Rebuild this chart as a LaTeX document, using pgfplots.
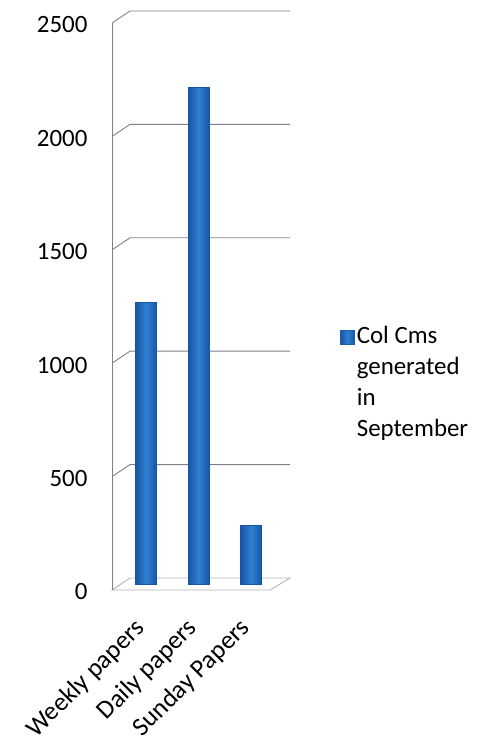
\documentclass[border=0pt]{standalone}
\usepackage{pgfplots}
\pgfplotsset{compat=1.18}
\usepackage{fontspec}
\setmainfont{Carlito}
\definecolor{barmid}{RGB}{48,128,210}
\definecolor{baredge}{RGB}{24,84,164}
\definecolor{legblue}{RGB}{31,95,168}
\definecolor{gridc}{RGB}{128,128,140}
\pgfplotsset{cyl/.style={ybar, bar width=0.4, bar shift=0pt, draw=baredge, line width=0.8bp,
    left color=baredge, right color=baredge, middle color=barmid}}
\begin{document}
\begin{tikzpicture}
\useasboundingbox (0,0) rectangle (480bp,737bp);
\begin{axis}[
  at={(112bp,153bp)}, anchor=south west,
  scale only axis, width=178bp, height=567bp,
  xmin=-0.65, xmax=2.74, ymin=0, ymax=2500,
  clip=false,
  axis line style={draw=none},
  major tick length=0pt,
  xtick={0,1,2}, xticklabels={Weekly papers, Daily papers, Sunday Papers},
  ytick={0,500,1000,1500,2000,2500},
  /pgf/number format/assume math mode=true,
  /pgf/number format/1000 sep={},
  tick label style={font=\fontsize{25}{30}\selectfont, text=black},
  yticklabel style={yshift=-8bp, xshift=-21bp},
  xticklabel style={font=\fontsize{26}{30}\selectfont, xshift=-3bp, yshift=-38bp, rotate=45, anchor=east},
  legend style={at={(rel axis cs:1.28,0.466)}, anchor=north west, draw=none, fill=none,
    font=\fontsize{25}{31}\selectfont, inner sep=0pt, cells={anchor=base west}},
  legend image code/.code={\fill[legblue] (-4bp,-1bp) rectangle (10bp,13bp);},
]
\pgfplotsinvokeforeach{500,1000,1500,2000,2500}{
  \draw[gridc, line width=0.9bp] ([yshift=-6bp]axis cs:-0.65,#1) -- ([xshift=18bp,yshift=6bp]axis cs:-0.65,#1) -- ([yshift=6bp]axis cs:2.74,#1);
}
\draw[gridc!60, line width=0.9bp] ([yshift=-6bp]axis cs:-0.65,0) -- ([xshift=-20bp,yshift=-6bp]axis cs:2.74,0) -- ([yshift=6bp]axis cs:2.74,0) -- ([xshift=18bp,yshift=6bp]axis cs:-0.65,0) -- cycle;
\draw[gridc, line width=0.9bp] ([yshift=-6bp]axis cs:-0.65,0) -- ([yshift=-6bp]axis cs:-0.65,2500);
\addplot[cyl] coordinates {(0,1240)};
\addlegendentry{\begin{tabular}[t]{@{}l@{}}Col Cms\\generated\\in\\September\end{tabular}}
\addplot[cyl, forget plot] coordinates {(1,2190)};
\addplot[cyl, forget plot] coordinates {(2,260)};
\end{axis}
\end{tikzpicture}
\end{document}
